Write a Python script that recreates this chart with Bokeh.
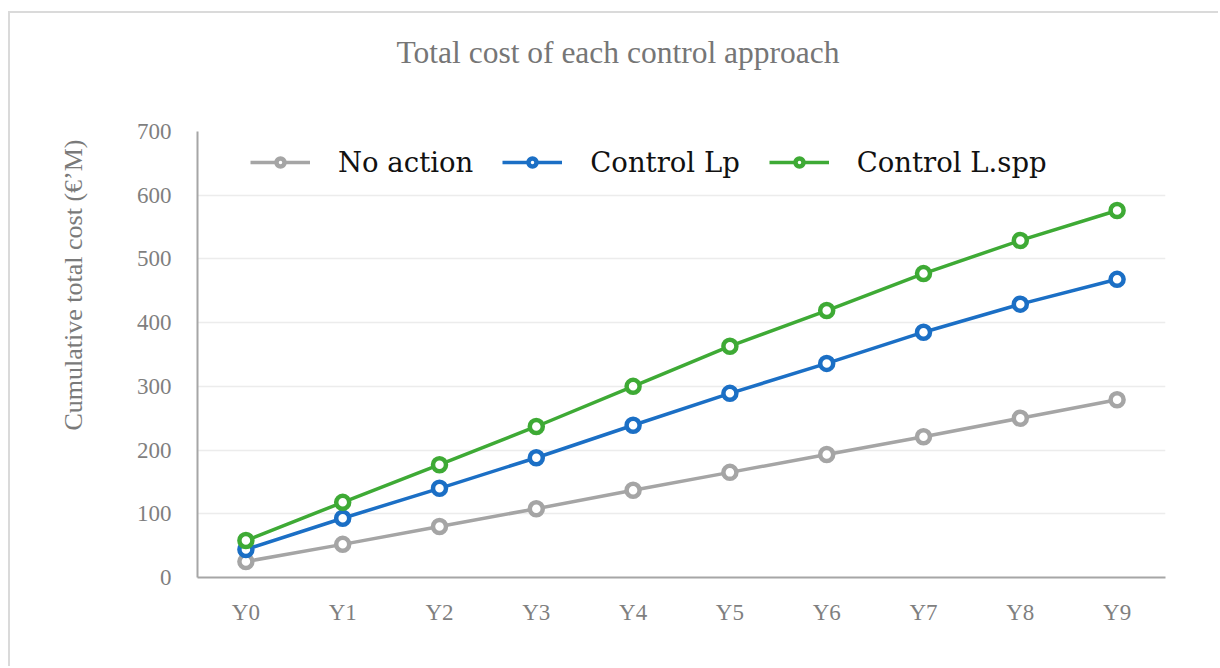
from bokeh.plotting import figure
from bokeh.models import FactorRange, Range1d, Legend, LegendItem, Title, FixedTicker
from bokeh.embed import file_html
from bokeh.resources import INLINE

years = ["Y0", "Y1", "Y2", "Y3", "Y4", "Y5", "Y6", "Y7", "Y8", "Y9"]
no_action = [25, 52, 80, 108, 137, 165, 193, 221, 250, 279]
control_lp = [44, 93, 140, 188, 239, 289, 336, 385, 429, 468]
control_lspp = [58, 118, 177, 237, 300, 363, 419, 477, 529, 576]
series_names = ["No action", "Control Lp", "Control L.spp"]
series_colors = ["#a5a5a5", "#1b6fc5", "#3eaa35"]
y_ticks = [0, 100, 200, 300, 400, 500, 600, 700]
title_text = "Total cost of each control approach"
y_label_text = "Cumulative total cost (\u20ac\u2019M)"

FONT = "Liberation Serif"

p = figure(
    x_range=FactorRange(*years),
    y_range=Range1d(0, 700),
    width=1210, height=655,
    output_backend="svg", toolbar_location=None,
    min_border_left=186, min_border_top=118,
    min_border_right=55, min_border_bottom=91,
)
p.margin = (11, 0, 0, 8)
p.styles = {"border-left": "2px solid #dadada", "border-top": "2px solid #dadada"}

# spacer between title and frame
p.add_layout(Title(text=" ", text_font_size="1px", standoff=40), "above")

p.title.text = title_text
p.title.align = "left"
p.title.offset = 199
p.title.standoff = 38
p.title.text_font = FONT
p.title.text_font_size = "31.5px"
p.title.text_font_style = "normal"
p.title.text_color = "#767676"

ylab = Title(text=y_label_text, align="left", offset=147,
             standoff=92, text_font=FONT, text_font_size="26px",
             text_font_style="normal", text_color="#7a7a7a")
p.add_layout(ylab, "left")

p.outline_line_color = None
p.xgrid.grid_line_color = None
p.ygrid.grid_line_color = "#ececec"
p.ygrid.grid_line_width = 1.5

p.yaxis.ticker = FixedTicker(ticks=y_ticks)
for ax in (p.xaxis, p.yaxis):
    ax.major_tick_line_color = None
    ax.minor_tick_line_color = None
    ax.axis_line_color = "#a6a6a6"
    ax.axis_line_width = 2
    ax.major_label_text_font = FONT
    ax.major_label_text_font_size = "23px"
    ax.major_label_text_color = "#7f7f7f"
p.yaxis.major_label_standoff = 20
p.xaxis.major_label_standoff = 16

items = []
for name, vals, col in zip(series_names, [no_action, control_lp, control_lspp], series_colors):
    ln = p.line(years, vals, line_color=col, line_width=3.5)
    sc = p.scatter(years, vals, marker="circle", size=13, fill_color="white",
                   line_color=col, line_width=4.5)
    items.append(LegendItem(label=name, renderers=[ln, sc]))

legend = Legend(items=items, orientation="horizontal", location=(53, 399),
                border_line_color=None, background_fill_alpha=0,
                label_text_font="DejaVu Serif", label_text_font_size="27.5px",
                label_text_font_style="normal",
                label_text_color="#111111",
                glyph_width=60, label_standoff=28, spacing=29,
                padding=0, margin=0)
p.add_layout(legend, "center")

open("out.html", "w").write(file_html(p, INLINE))
